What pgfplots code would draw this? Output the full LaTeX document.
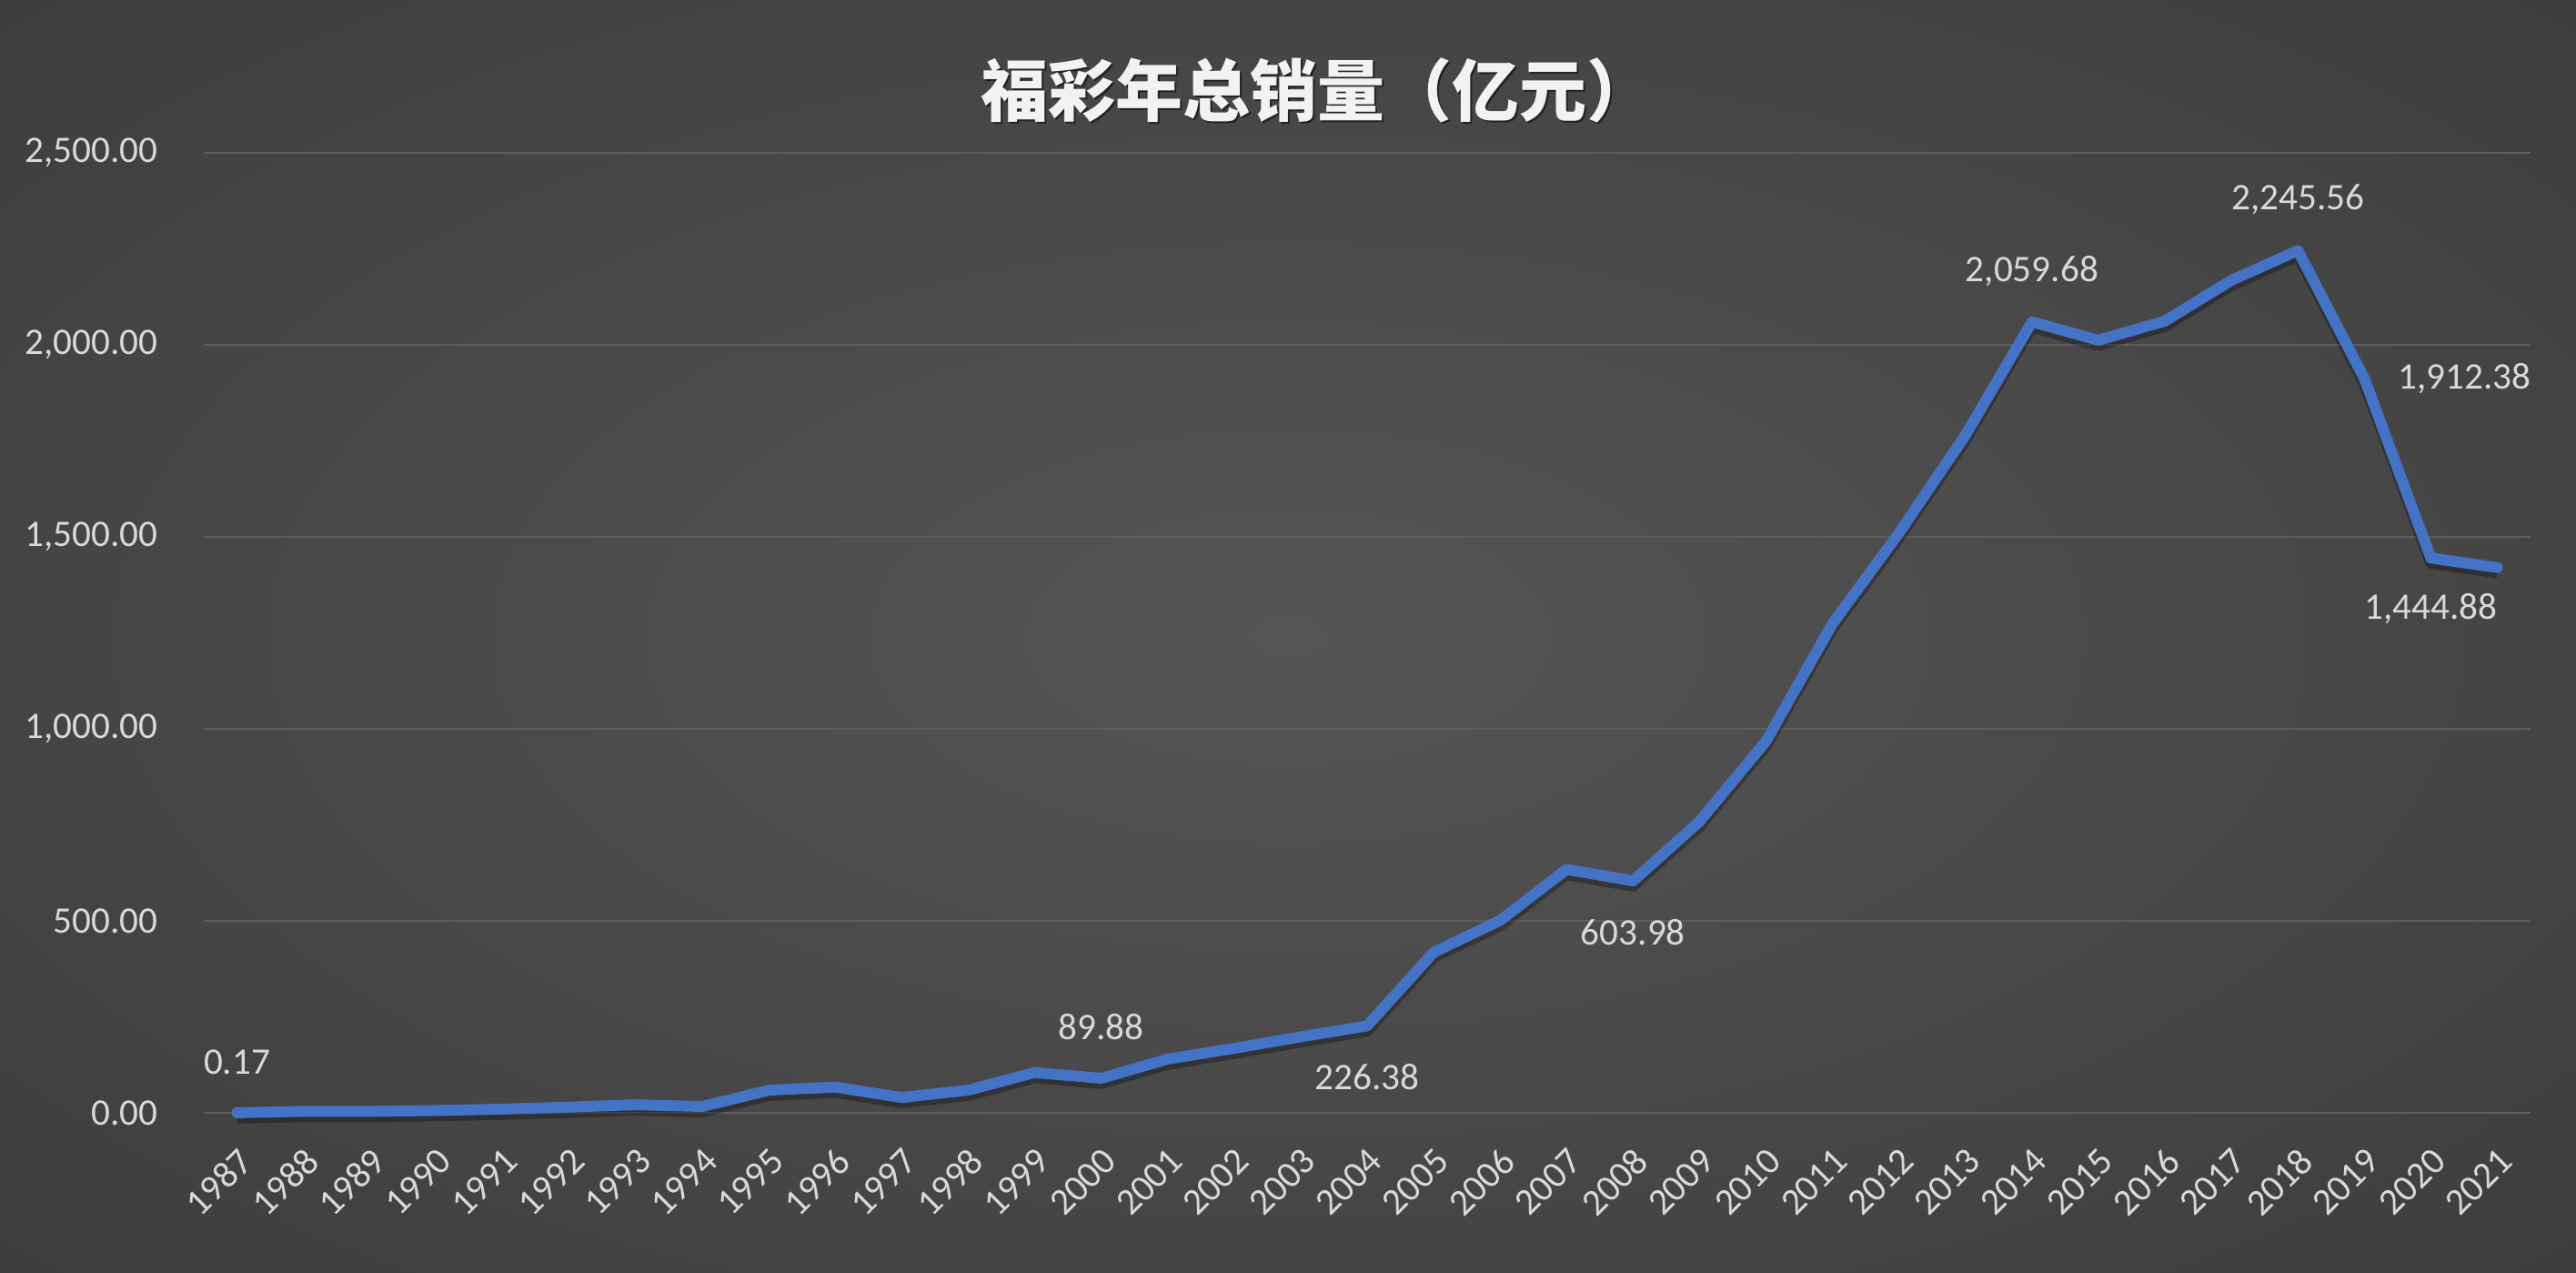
\documentclass[border=0pt]{standalone}
\usepackage{fontspec}
\setmainfont{Carlito}
\newfontfamily\cjk{Noto Sans CJK SC}
\usepackage{pgfplots}
\pgfplotsset{compat=1.18}
\usepackage{pgfplotstable}

\definecolor{bgin}{HTML}{555555}
\definecolor{bgout}{HTML}{242424}
\definecolor{gridc}{HTML}{5E5E5E}
\definecolor{txt}{HTML}{D9D9D9}
\definecolor{linec}{HTML}{4472C4}
\pgfdeclareradialshading{bgshade}{\pgfpoint{0bp}{0bp}}{color(0bp)=(bgin); color(72bp)=(bgout)}

% annual sales, 100 million yuan
\pgfplotstableread{
year sales
1987 0.17
1988 3.8
1989 3.9
1990 6.0
1991 9.8
1992 15.0
1993 21.0
1994 16.5
1995 59.0
1996 67.0
1997 40.0
1998 59.0
1999 105.0
2000 89.88
2001 140.0
2002 168.0
2003 198.0
2004 226.38
2005 418.0
2006 501.0
2007 634.0
2008 603.98
2009 759.0
2010 968.0
2011 1274.0
2012 1510.0
2013 1765.0
2014 2059.68
2015 2012.0
2016 2062.0
2017 2168.0
2018 2245.56
2019 1912.38
2020 1444.88
2021 1420.0
}\sales

\begin{document}
\begin{tikzpicture}
\shade[shading=bgshade] (0,0) rectangle (708pt,349.75pt);
\node[text=black, opacity=0.5] at (362.6pt,324.4pt) {\cjk\bfseries\fontsize{18.5}{20}\selectfont 福彩年总销量（亿元）};
\node[text=white!95!black] at (362pt,325pt) {\cjk\bfseries\fontsize{18.5}{20}\selectfont 福彩年总销量（亿元）};
\begin{axis}[
	at={(56pt,44pt)}, anchor=south west,
	scale only axis,
	width=639.5pt, height=263.75pt,
	xmin=1986.5, xmax=2021.5,
	ymin=0, ymax=2500,
	clip=false,
	axis line style={draw=none},
	major tick length=0pt,
	xtick={1987,...,2021},
	ytick={0,500,...,2500},
	ymajorgrids,
	grid style={gridc, line width=0.6pt},
	font=\fontsize{10.3}{12}\selectfont,
	tick label style={text=txt},
	/pgf/number format/assume math mode=true,
	/pgf/number format/.cd, fixed, fixed zerofill, precision=2, 1000 sep={,},
	/pgfplots/.cd,
	xticklabel style={xshift=2.5pt, yshift=-11.5pt, rotate=45, anchor=east, inner sep=0pt,
		/pgf/number format/precision=0, /pgf/number format/1000 sep={}},
	yticklabel style={anchor=east, inner sep=0pt, xshift=-12.5pt},
	scaled y ticks=false,
]
\addplot[black, opacity=0.3, line width=3.1pt, line join=round, yshift=-1.4pt, forget plot] table[x=year, y=sales] {\sales};
\addplot[linec, line width=3pt, line join=round, line cap=round] table[x=year, y=sales] {\sales};

% data labels above the points
\addplot[draw=none, point meta=y, nodes near coords,
	every node near coord/.append style={anchor=center, inner sep=0pt, yshift=14pt, text=txt}]
	coordinates {(1987,0.17) (2000,89.88) (2014,2059.68) (2018,2245.56)};
% below
\addplot[draw=none, point meta=y, nodes near coords,
	every node near coord/.append style={anchor=center, inner sep=0pt, yshift=-14pt, text=txt}]
	coordinates {(2004,226.38) (2008,603.98) (2020,1444.88)};
% right
\addplot[draw=none, point meta=y, nodes near coords,
	every node near coord/.append style={anchor=center, inner sep=0pt, xshift=27.5pt, text=txt}]
	coordinates {(2019,1912.38)};
\end{axis}
\end{tikzpicture}
\end{document}
